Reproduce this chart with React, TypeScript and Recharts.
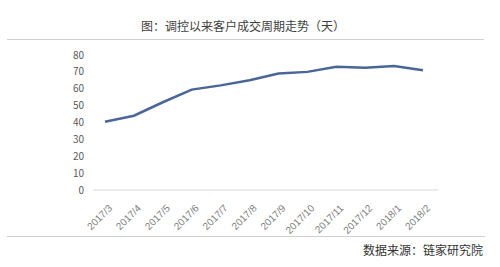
import React from "react";
import { LineChart, Line, XAxis, YAxis } from "recharts";

const months = [
  "2017/3", "2017/4", "2017/5", "2017/6", "2017/7", "2017/8",
  "2017/9", "2017/10", "2017/11", "2017/12", "2018/1", "2018/2",
];
const cycleDays = [40.5, 44, 52, 59.5, 62, 65, 69, 70, 73, 72.5, 73.5, 71];
const yTicks = [0, 10, 20, 30, 40, 50, 60, 70, 80];

const titleText = "图：调控以来客户成交周期走势（天）";
const sourceText = "数据来源：链家研究院";

const data = months.map((m, i) => ({ month: m, days: cycleDays[i] }));

const FONT = '"Noto Sans CJK SC", "Noto Sans", sans-serif';

const RotatedTick = (props: any) => {
  const { x, y, payload } = props;
  return (
    <g transform={`translate(${x + 5},${y + 8})`}>
      <text
        x={0}
        y={0}
        dy={4}
        textAnchor="end"
        transform="rotate(-45)"
        fontSize={10}
        fill="#808080"
        fontFamily='"Liberation Sans", Arial, sans-serif'
      >
        {payload.value}
      </text>
    </g>
  );
};

export default function App() {
  return (
    <div
      style={{
        position: "absolute",
        top: 0,
        left: 0,
        width: 500,
        height: 267,
        background: "#fff",
        fontFamily: FONT,
      }}
    >
      <div
        style={{
          position: "absolute",
          top: 17,
          left: 0,
          width: 486,
          textAlign: "center",
          fontSize: 12,
          color: "#404040",
          lineHeight: "18px",
        }}
      >
        {titleText}
      </div>
      <div
        style={{
          position: "absolute",
          top: 39,
          left: 7,
          width: 477,
          height: 1,
          background: "#d0d0d0",
        }}
      />
      <LineChart
        width={500}
        height={267}
        data={data}
        margin={{ top: 55, right: 62, bottom: 30, left: 53 }}
      >
        <XAxis
          dataKey="month"
          axisLine={{ stroke: "#d9d9d9", strokeWidth: 1 }}
          tickLine={false}
          interval={0}
          height={47}
          padding={{ left: 12, right: 15 }}
          tick={<RotatedTick />}
        />
        <YAxis
          domain={[0, 80]}
          ticks={yTicks}
          axisLine={false}
          tickLine={false}
          width={40}
          tickMargin={3}
          tick={{ fontSize: 10, fill: "#595959", fontFamily: FONT }}
        />
        <Line
          dataKey="days"
          stroke="#4a6698"
          strokeWidth={2.5}
          dot={false}
          isAnimationActive={false}
        />
      </LineChart>
      <div
        style={{
          position: "absolute",
          top: 236,
          left: 7,
          width: 478,
          height: 1,
          background: "#d0d0d0",
        }}
      />
      <div
        style={{
          position: "absolute",
          top: 241,
          right: 17,
          fontSize: 12,
          color: "#333",
          lineHeight: "18px",
        }}
      >
        {sourceText}
      </div>
    </div>
  );
}
